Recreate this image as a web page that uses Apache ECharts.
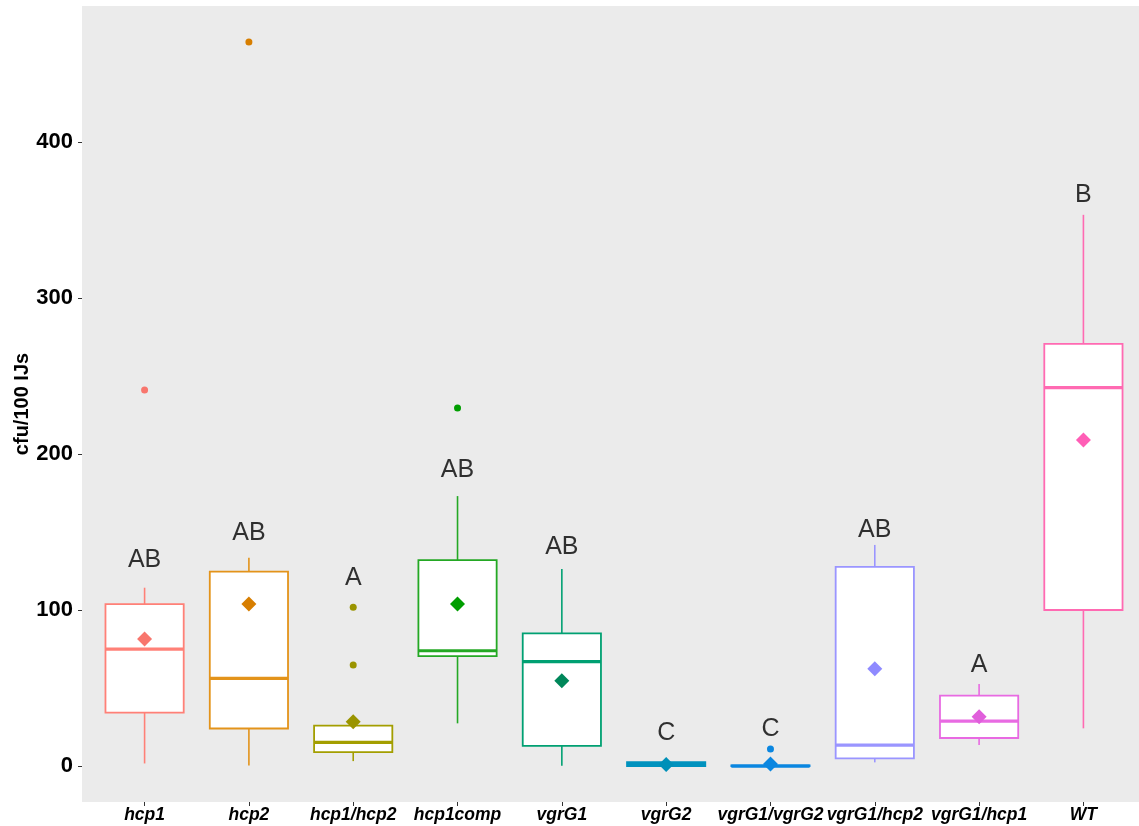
<!DOCTYPE html>
<html>
<head>
<meta charset="utf-8">
<title>cfu/100 IJs by strain</title>
<script src="https://cdn.jsdelivr.net/npm/echarts@6/dist/echarts.min.js"></script>
<style>
  html, body { margin: 0; padding: 0; background: #ffffff; }
  #chart { width: 1139px; height: 826px; }
</style>
</head>
<body>
<div id="chart"></div>
<script>
// Strains shown along the x axis
const categories = ['hcp1', 'hcp2', 'hcp1/hcp2', 'hcp1comp', 'vgrG1', 'vgrG2',
                    'vgrG1/vgrG2', 'vgrG1/hcp2', 'vgrG1/hcp1', 'WT'];

// Box statistics per strain (cfu/100 IJs)
const whiskerLow  = [1.7, 0.4, 3.2, 27.4, 0.2, 0, 0, 2.4, 13.5, 24.2];
const quartile1   = [34.2, 24.1, 9.0, 70.5, 13.0, 0, 0, 4.9, 18.0, 100.0];
const medians     = [75.0, 56.2, 15.2, 73.9, 66.9, 1.0, 0, 13.5, 28.8, 242.5];
const quartile3   = [103.8, 124.6, 25.9, 132.0, 85.0, 2.5, 0.4, 127.6, 45.1, 270.5];
const whiskerHigh = [114.3, 133.5, 25.9, 173.0, 126.3, 2.5, 0.4, 141.7, 52.6, 353.2];

// Group means (diamonds)
const means = [81.4, 103.8, 28.4, 103.8, 54.7, 1.0, 1.3, 62.4, 31.6, 209.0];

// Outlying observations: [strain index, value]
const outliers = [[0, 241.0], [1, 464.0], [2, 101.7], [2, 64.7], [3, 229.5], [6, 10.9]];

// Significance letters and the height they sit at
const letters = ['AB', 'AB', 'A', 'AB', 'AB', 'C', 'C', 'AB', 'A', 'B'];
const letterY = [132.0, 149.4, 120.5, 189.7, 140.4, 21.0, 23.7, 151.0, 64.7, 366.0];

// Y-axis tick values
const yTicks = [0, 100, 200, 300, 400];

// Colours: outlines and darker point colours per strain
const lineColors  = ['#FF8077', '#E3931A', '#A39E00', '#24A824', '#00A072',
                     '#0092BE', '#0A86E0', '#9A95FF', '#E86AE2', '#FF6AB2'];
const pointColors = ['#F8766D', '#D77E00', '#9A9400', '#009E00', '#00875A',
                     '#0090B8', '#0A86E0', '#8F8AFF', '#E05EDB', '#FF5EB6'];

const FONT = '"Liberation Sans", Arial, Helvetica, sans-serif';

const boxData = categories.map((c, i) =>
  [i, whiskerLow[i], quartile1[i], medians[i], quartile3[i], whiskerHigh[i]]);

const chart = echarts.init(document.getElementById('chart'), null, { renderer: 'canvas' });

chart.setOption({
  animation: false,
  backgroundColor: '#ffffff',
  grid: {
    left: 82, top: 6, width: 1064, height: 796,
    show: true, backgroundColor: '#EBEBEB', borderWidth: 0,
    containLabel: false, outerBoundsMode: 'none'
  },
  xAxis: {
    type: 'value',
    min: -0.6, max: 9.6,
    axisLine: { show: false, onZero: false },
    splitLine: { show: false },
    axisTick: { show: true, customValues: categories.map((c, i) => i), length: 4,
                lineStyle: { color: '#333333', width: 1 } },
    axisLabel: {
      customValues: categories.map((c, i) => i),
      formatter: v => categories[Math.round(v)] || '',
      fontFamily: FONT, fontSize: 17.5, fontWeight: 'bold', fontStyle: 'italic',
      color: '#000000', margin: 4
    }
  },
  yAxis: {
    type: 'value',
    min: -23, max: 487,
    name: 'cfu/100 IJs',
    nameLocation: 'middle',
    nameRotate: 90,
    nameGap: 50,
    nameMoveOverlap: false,
    nameTextStyle: { fontFamily: FONT, fontSize: 20, fontWeight: 'bold', color: '#000000' },
    axisLine: { show: false, onZero: false },
    splitLine: { show: false },
    axisTick: { show: true, customValues: yTicks, length: 4,
                lineStyle: { color: '#333333', width: 1 } },
    axisLabel: {
      customValues: yTicks,
      fontFamily: FONT, fontSize: 22, fontWeight: 'bold', color: '#000000', margin: 9
    }
  },
  series: [
    {
      // Boxes, whiskers and medians
      type: 'custom',
      data: boxData,
      encode: { x: 0, y: [1, 2, 3, 4, 5] },
      z: 2,
      renderItem: function (params, api) {
        const i = api.value(0);
        const bw = api.size([1, 0])[0] * 0.75;
        const pLow = api.coord([i, api.value(1)]);
        const p1 = api.coord([i, api.value(2)]);
        const pm = api.coord([i, api.value(3)]);
        const p3 = api.coord([i, api.value(4)]);
        const pHigh = api.coord([i, api.value(5)]);
        const col = lineColors[i];
        return {
          type: 'group',
          children: [
            { type: 'line', shape: { x1: pLow[0], y1: pLow[1], x2: p1[0], y2: p1[1] },
              style: { stroke: col, lineWidth: 1.6 } },
            { type: 'line', shape: { x1: p3[0], y1: p3[1], x2: pHigh[0], y2: pHigh[1] },
              style: { stroke: col, lineWidth: 1.6 } },
            { type: 'rect', shape: { x: p1[0] - bw / 2, y: p3[1], width: bw, height: p1[1] - p3[1] },
              style: { fill: '#ffffff', stroke: col, lineWidth: 1.8 } },
            { type: 'line', shape: { x1: pm[0] - bw / 2, y1: pm[1], x2: pm[0] + bw / 2, y2: pm[1] },
              style: { stroke: col, lineWidth: 3.2 } }
          ]
        };
      }
    },
    {
      // Outlying points
      type: 'scatter',
      data: outliers,
      symbol: 'circle',
      symbolSize: 7,
      z: 3,
      itemStyle: { color: p => pointColors[p.value[0]], opacity: 1 }
    },
    {
      // Group means
      type: 'scatter',
      data: means.map((m, i) => [i, m]),
      symbol: 'diamond',
      symbolSize: 15,
      z: 4,
      itemStyle: { color: p => pointColors[p.value[0]], opacity: 1 }
    },
    {
      // Significance letters
      type: 'scatter',
      data: letterY.map((y, i) => [i, y]),
      symbolSize: 1,
      z: 5,
      itemStyle: { color: 'rgba(0,0,0,0)' },
      label: {
        show: true,
        position: 'inside',
        formatter: p => letters[p.dataIndex],
        fontFamily: FONT, fontSize: 25, color: '#000000'
      }
    }
  ]
});
</script>
</body>
</html>
